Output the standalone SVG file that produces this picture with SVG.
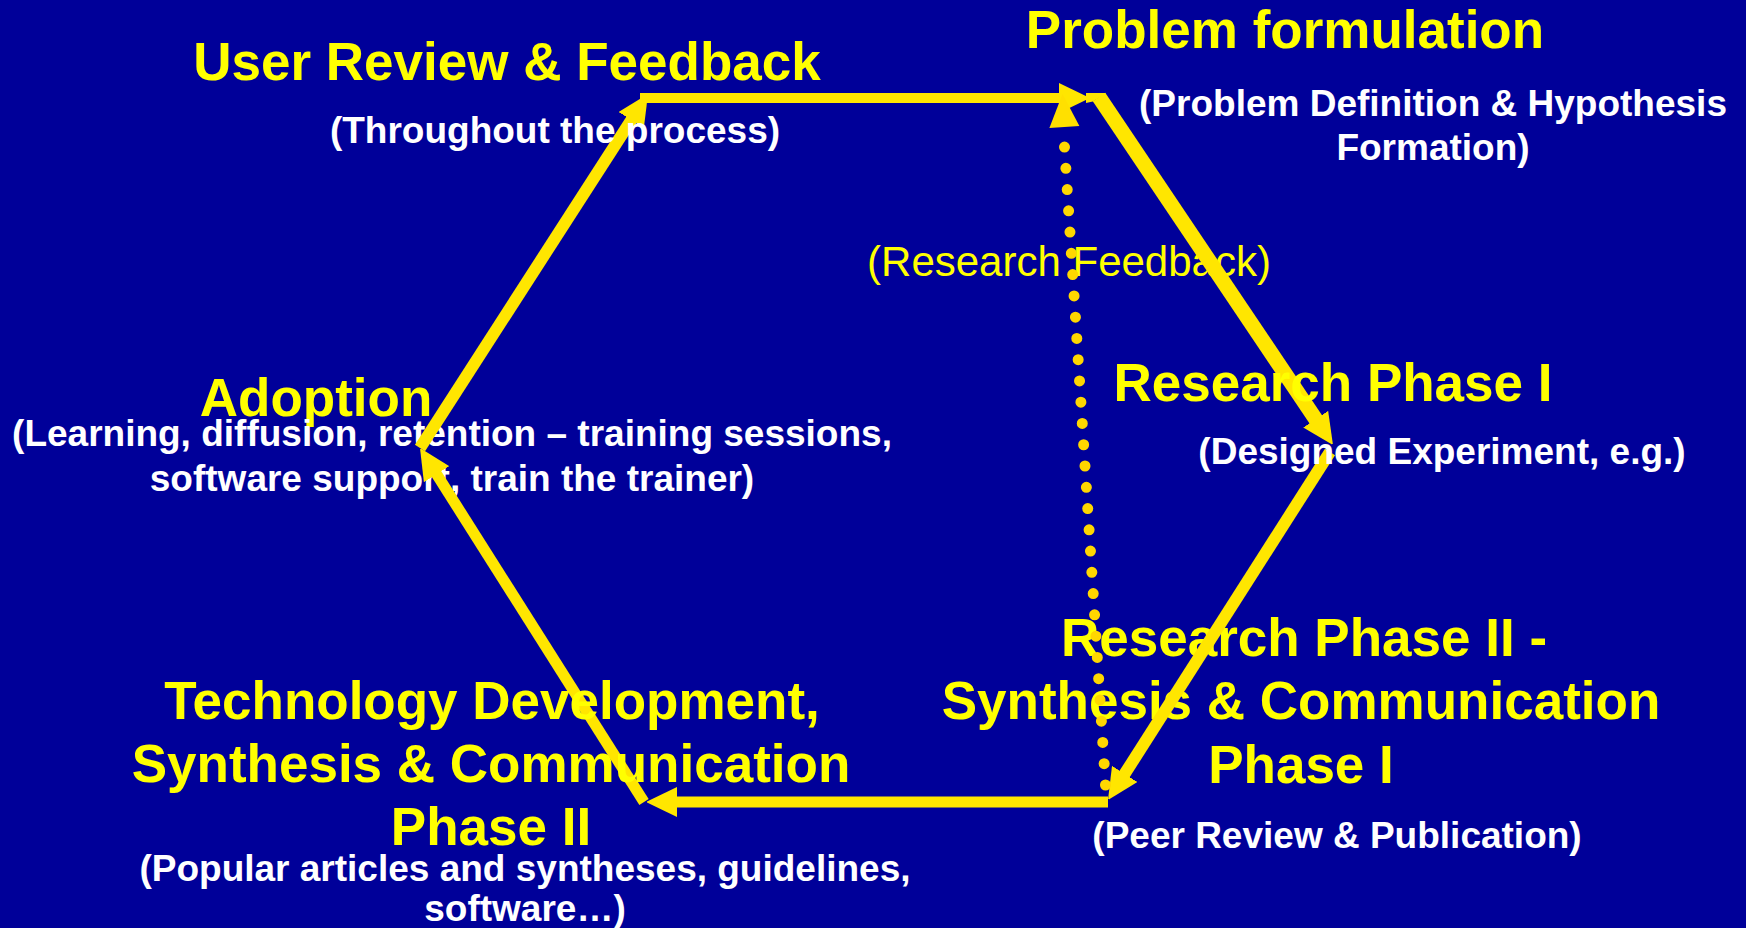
<svg xmlns="http://www.w3.org/2000/svg" width="1746" height="928" viewBox="0 0 1746 928">
  <style>
    text { font-family: "Liberation Sans", Arial, sans-serif; text-anchor: middle; }
    .title { font-size: 53px; font-weight: bold; fill: #FFFF00; }
    .sub { font-size: 37px; font-weight: bold; fill: #FFFFFF; }
    .note { font-size: 42px; font-weight: normal; fill: #FFFF00; }
    .edge { fill: none; stroke: #FFE600; stroke-linecap: butt; marker-end: url(#head); }
    .dots { fill: none; stroke: #FFD700; stroke-width: 11; stroke-linecap: round; stroke-dasharray: 0 21.31; }
  </style>
  <defs>
    <marker id="head" markerUnits="userSpaceOnUse" viewBox="0 0 30 30" markerWidth="30" markerHeight="30" refX="2" refY="15" orient="auto">
      <path d="M0,0 L31,15 L0,30 Z" fill="#FFE600"/>
    </marker>
  </defs>

  <rect width="1746" height="928" fill="#000099"/>

  <!-- nodes whose text lies beneath the cycle lines -->
  <g id="adoption">
    <text class="title" x="316" y="416">Adoption</text>
    <text class="sub" x="452" y="446">(Learning, diffusion, retention – training sessions,</text>
    <text class="sub" x="452" y="491">software support, train the trainer)</text>
  </g>
  <g id="research-phase-2">
    <text class="title" x="1304" y="656">Research Phase II -</text>
    <text class="title" x="1301" y="719">Synthesis &amp; Communication</text>
    <text class="title" x="1301" y="783">Phase I</text>
    <text class="sub" x="1337" y="848">(Peer Review &amp; Publication)</text>
  </g>
  <g id="research-feedback-label">
    <text class="note" x="1069" y="276">(Research Feedback)</text>
  </g>

  <!-- the cycle: six sides, each ending in an arrowhead, plus the dotted feedback link -->
  <g id="connectors">
    <line class="edge" stroke-width="15" x1="1099" y1="97" x2="1316.8" y2="420.9"/>
    <!-- squared-off top-right corner where the top side meets the first diagonal -->
    <polygon points="1086,93 1106,93 1105,94 1092.8,101.5 1086,103" fill="#FFE600"/>
    <line class="edge" stroke-width="12" x1="1330" y1="452" x2="1123.6" y2="775.6"/>
    <line class="edge" stroke-width="11" x1="1108" y1="802" x2="675" y2="802"/>
    <line class="edge" stroke-width="11" x1="644" y1="802" x2="435.5" y2="472.5"/>
    <line class="edge" stroke-width="12" x1="420" y1="448" x2="632.3" y2="118.4"/>
    <line class="edge" stroke-width="10" x1="640" y1="98" x2="1061" y2="98"/>
    <line class="dots" x1="1105.5" y1="785" x2="1064.5" y2="147"/>
    <polygon points="1062.5,94 1079.4,126 1049.4,128" fill="#FFE000"/>
  </g>

  <!-- nodes drawn over the lines -->
  <g id="user-review">
    <text class="title" x="507" y="80">User Review &amp; Feedback</text>
    <text class="sub" x="555" y="143">(Throughout the process)</text>
  </g>
  <g id="problem-formulation">
    <text class="title" x="1285" y="48">Problem formulation</text>
    <text class="sub" x="1433" y="116">(Problem Definition &amp; Hypothesis</text>
    <text class="sub" x="1433" y="160">Formation)</text>
  </g>
  <g id="research-phase-1">
    <text class="title" x="1333" y="401">Research Phase I</text>
    <text class="sub" x="1442" y="464">(Designed Experiment, e.g.)</text>
  </g>
  <g id="technology-development">
    <text class="title" x="492" y="719">Technology Development,</text>
    <text class="title" x="491" y="782">Synthesis &amp; Communication</text>
    <text class="title" x="491" y="845">Phase II</text>
    <text class="sub" x="525" y="881">(Popular articles and syntheses, guidelines,</text>
    <text class="sub" x="525" y="921">software…)</text>
  </g>
</svg>
